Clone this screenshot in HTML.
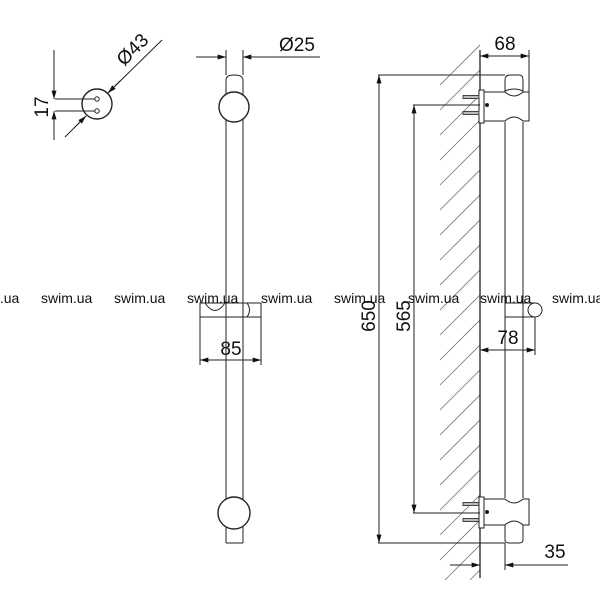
<!DOCTYPE html>
<html><head><meta charset="utf-8"><style>
html,body{margin:0;padding:0;background:#fff;width:600px;height:600px;overflow:hidden;}
svg{display:block;}
text{font-family:"Liberation Sans",sans-serif;fill:#111;}
.wm{fill:#6a6a6a;font-size:14px;}
</style></head><body>
<svg width="600" height="600" viewBox="0 0 600 600" xmlns="http://www.w3.org/2000/svg" overflow="hidden">
<defs>
<marker id="a" viewBox="0 0 10 6" refX="10" refY="3" markerWidth="11" markerHeight="5" orient="auto-start-reverse" markerUnits="userSpaceOnUse"><path d="M0,0 L10,3 L0,6 z" fill="#111"/></marker>
<clipPath id="hc"><polygon points="440,80 480,40 480,580 440,580"/></clipPath>
</defs>
<g fill="none" stroke="#222" stroke-width="1">
<circle cx="97" cy="104" r="15" stroke-width="1.4"/>
<circle cx="97" cy="99" r="2.2"/><circle cx="97" cy="111" r="2.2"/>
<line x1="55" y1="99" x2="95" y2="99"/><line x1="55" y1="111" x2="95" y2="111"/>
<line x1="54" y1="50" x2="54" y2="99" marker-end="url(#a)"/>
<line x1="54" y1="140" x2="54" y2="111" marker-end="url(#a)"/>
<line x1="162" y1="40" x2="108" y2="93" />
<line x1="120" y1="81" x2="108" y2="93" marker-end="url(#a)"/>
<line x1="65" y1="137" x2="86" y2="116"/>
<line x1="74" y1="128" x2="86" y2="116" marker-end="url(#a)"/>

<line x1="226" y1="80" x2="226" y2="543"/><line x1="243" y1="80" x2="243" y2="543"/>
<path d="M226,80 Q226,75 234,75 Q243,75 243,80"/>
<line x1="226" y1="543" x2="243" y2="543"/>
<circle cx="234" cy="107" r="15" fill="#fff" stroke-width="1.4"/>
<circle cx="234" cy="513" r="16" fill="#fff" stroke-width="1.4"/>
<line x1="226" y1="50" x2="226" y2="75"/><line x1="243" y1="50" x2="243" y2="75"/>
<line x1="196" y1="57" x2="226" y2="57" marker-end="url(#a)"/>
<line x1="320" y1="57" x2="243" y2="57" marker-end="url(#a)"/>
<rect x="200" y="303" width="61" height="14" fill="#fff"/>
<line x1="226" y1="303" x2="226" y2="317"/><line x1="243" y1="303" x2="243" y2="317"/>
<path d="M205,303 Q215,318 225,303"/>
<path d="M247,303 Q252,310 247,317"/>
<line x1="200" y1="317" x2="200" y2="365"/><line x1="261" y1="317" x2="261" y2="365"/>
<line x1="230" y1="360" x2="200" y2="360" marker-end="url(#a)"/>
<line x1="230" y1="360" x2="261" y2="360" marker-end="url(#a)"/>

<g clip-path="url(#hc)" stroke-width="0.8" stroke="#777">
<line x1="440" y1="85" x2="500" y2="25"/>
<line x1="440" y1="110" x2="500" y2="50"/><line x1="440" y1="135" x2="500" y2="75"/>
<line x1="440" y1="160" x2="500" y2="100"/><line x1="440" y1="185" x2="500" y2="125"/>
<line x1="440" y1="210" x2="500" y2="150"/><line x1="440" y1="235" x2="500" y2="175"/>
<line x1="440" y1="260" x2="500" y2="200"/><line x1="440" y1="285" x2="500" y2="225"/>
<line x1="440" y1="310" x2="500" y2="250"/><line x1="440" y1="335" x2="500" y2="275"/>
<line x1="440" y1="360" x2="500" y2="300"/><line x1="440" y1="385" x2="500" y2="325"/>
<line x1="440" y1="410" x2="500" y2="350"/><line x1="440" y1="435" x2="500" y2="375"/>
<line x1="440" y1="460" x2="500" y2="400"/><line x1="440" y1="485" x2="500" y2="425"/>
<line x1="440" y1="510" x2="500" y2="450"/><line x1="440" y1="535" x2="500" y2="475"/>
<line x1="440" y1="560" x2="500" y2="500"/><line x1="440" y1="585" x2="500" y2="525"/>
<line x1="440" y1="610" x2="500" y2="550"/>
</g>
<line x1="480" y1="50" x2="480" y2="578" stroke-width="1.3"/>
<line x1="505" y1="122" x2="505" y2="498"/><line x1="523" y1="122" x2="523" y2="498"/>
<path d="M505,80 Q505,75 510,75 L519,75 Q523,75 523,80 L523,91 Q514,87 505,91 Z" fill="#fff"/>
<path d="M484,92 L505,92 Q514,100 523,92 L529,92 L529,121 L523,121 Q514,113 505,121 L484,121" fill="#fff"/>
<rect x="479" y="90" width="5" height="33" fill="#fff"/>
<g stroke="#444" stroke-width="1">
<rect x="463" y="95.5" width="16" height="3" fill="#bbb"/>
<rect x="463" y="111.5" width="16" height="3" fill="#bbb"/>
<rect x="463" y="502.5" width="16" height="3" fill="#bbb"/>
<rect x="463" y="518.5" width="16" height="3" fill="#bbb"/>
</g>
<circle cx="487" cy="105" r="1.5" fill="#111"/>
<path d="M484,499 L505,499 Q514,507 523,499 L529,499 L529,525 L523,525 Q514,517 505,525 L484,525" fill="#fff"/>
<rect x="479" y="497" width="5" height="31" fill="#fff"/>
<path d="M505,525 L505,540 Q505,543 510,543 L519,543 Q523,543 523,540 L523,525"/>
<circle cx="487" cy="512" r="1.5" fill="#111"/>
<path d="M505,303 L535,303 M505,317 L535,317"/>
<line x1="535" y1="317" x2="535" y2="355"/>
<circle cx="535" cy="310" r="7" fill="#fff"/>
<line x1="529" y1="50" x2="529" y2="92"/>
<line x1="505" y1="56" x2="480" y2="56" marker-end="url(#a)"/>
<line x1="505" y1="56" x2="529" y2="56" marker-end="url(#a)"/>
<line x1="378" y1="75" x2="505" y2="75"/>
<line x1="378" y1="543" x2="505" y2="543"/>
<line x1="379" y1="300" x2="379" y2="75" marker-end="url(#a)"/>
<line x1="379" y1="300" x2="379" y2="543" marker-end="url(#a)"/>
<line x1="413" y1="105" x2="480" y2="105"/>
<line x1="413" y1="513" x2="480" y2="513"/>
<line x1="414" y1="300" x2="414" y2="105" marker-end="url(#a)"/>
<line x1="414" y1="300" x2="414" y2="513" marker-end="url(#a)"/>
<line x1="508" y1="350" x2="480" y2="350" marker-end="url(#a)"/>
<line x1="508" y1="350" x2="535" y2="350" marker-end="url(#a)"/>
<line x1="505" y1="543" x2="505" y2="570"/>
<line x1="450" y1="565" x2="480" y2="565" marker-end="url(#a)"/>
<line x1="568" y1="565" x2="505" y2="565" marker-end="url(#a)"/>
</g>
<text x="0" y="0" font-size="19" transform="translate(48,107) rotate(-90)" text-anchor="middle">17</text>
<text x="0" y="0" font-size="19" transform="translate(137,54) rotate(-45)" text-anchor="middle">Ø43</text>
<text x="297" y="51" font-size="19" text-anchor="middle">Ø25</text>
<text x="231" y="355" font-size="19" text-anchor="middle">85</text>
<text x="505" y="50" font-size="19" text-anchor="middle">68</text>
<text x="0" y="0" font-size="19" transform="translate(375,316) rotate(-90)" text-anchor="middle">650</text>
<text x="0" y="0" font-size="19" transform="translate(410,316) rotate(-90)" text-anchor="middle">565</text>
<text x="508" y="344" font-size="19" text-anchor="middle">78</text>
<text x="555" y="558" font-size="19" text-anchor="middle">35</text>
<g class="wm">
<text x="-32" y="303">swim.ua</text><text x="41" y="303">swim.ua</text>
<text x="114" y="303">swim.ua</text><text x="187" y="303">swim.ua</text>
<text x="261" y="303">swim.ua</text><text x="334" y="303">swim.ua</text>
<text x="408" y="303">swim.ua</text><text x="480" y="303">swim.ua</text>
<text x="552" y="303">swim.ua</text>
</g>
</svg>
</body></html>
